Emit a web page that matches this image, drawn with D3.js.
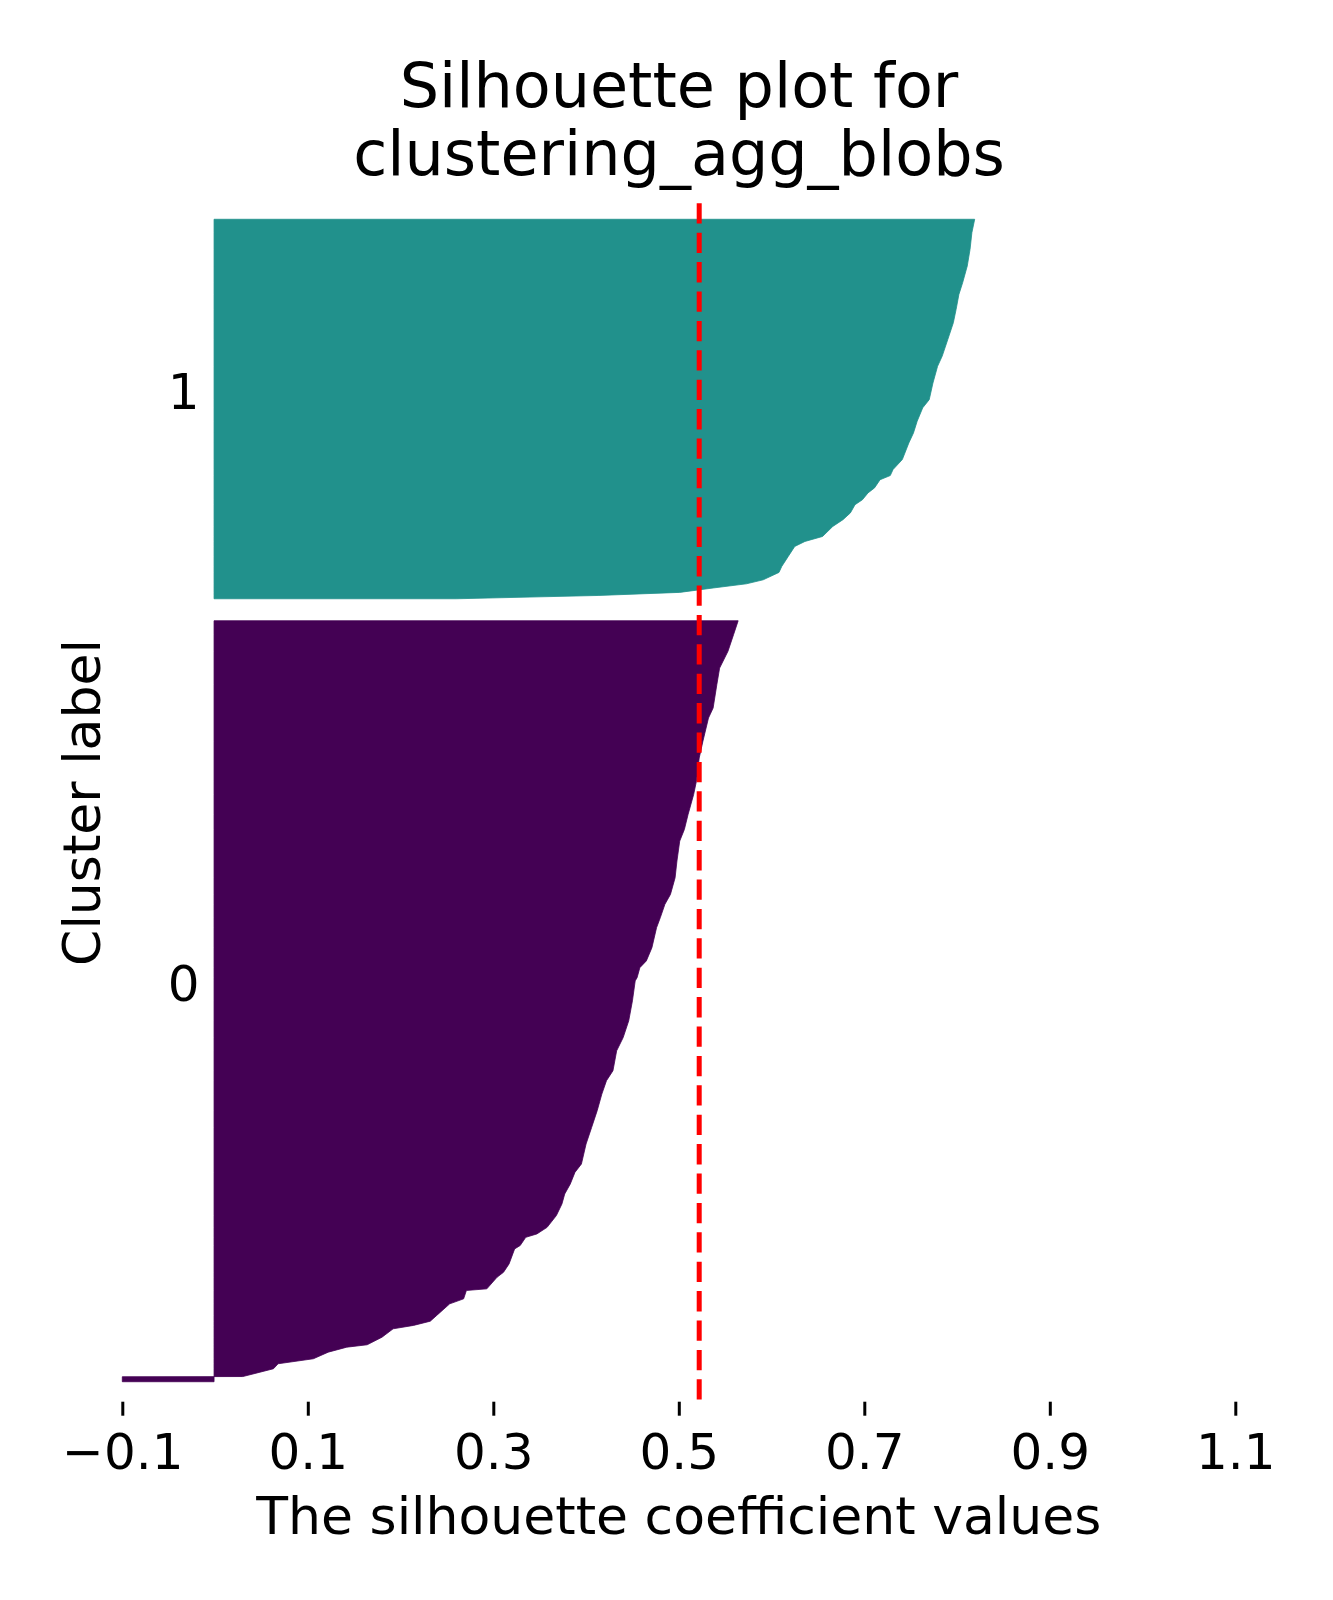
<!DOCTYPE html>
<html>
<head>
<meta charset="utf-8">
<script src="https://cdn.jsdelivr.net/npm/d3@7"></script>
<style>
  html, body { margin: 0; padding: 0; background: #fff; }
  svg { display: block; font-family: "DejaVu Sans", sans-serif; }
</style>
</head>
<body>
<svg id="chart"></svg>
<script>
'use strict';
// cluster labels, sizes and colours (viridis ends)
var clusterLabels = ['0', '1'];
var clusterSizes = [381, 190];
var clusterColors = ['#440154', '#21918c'];
var clusterGap = 11;
var yFirst = 10;
var yMax = 600;
var avgScore = 0.522;
var xTicks = [-0.1, 0.1, 0.3, 0.5, 0.7, 0.9, 1.1];
var xDomain = [-0.1, 1.1];

// sorted silhouette profile: [rank in cluster, value]
var profile0 = [
    [0, -0.1], [2.5, -0.1], [2.6, 0.03], [6.5, 0.063], [9, 0.068], [11.5, 0.106],
    [14.8, 0.122], [17.3, 0.142], [18.5, 0.164], [22.3, 0.18], [26.5, 0.192],
    [28.2, 0.214], [30.3, 0.232], [33.2, 0.239], [39, 0.253], [41.5, 0.268],
    [45.7, 0.271], [46.5, 0.293], [52.3, 0.304], [54.8, 0.311], [59, 0.317],
    [66.5, 0.323], [68.2, 0.329], [72.3, 0.335], [74, 0.347], [77.3, 0.358],
    [83.2, 0.368], [89, 0.374], [94, 0.377], [99, 0.383], [104.8, 0.388],
    [109, 0.395], [119, 0.4], [127.3, 0.406], [135.7, 0.412], [144, 0.417],
    [150.7, 0.422], [155.7, 0.429], [165.7, 0.433], [172.3, 0.44], [180.7, 0.446],
    [190.7, 0.45], [200.7, 0.453], [202.3, 0.455], [207.3, 0.458], [210.7, 0.465],
    [217.3, 0.471], [227.3, 0.476], [232.3, 0.48], [239, 0.485], [244, 0.491],
    [252.3, 0.496], [260.7, 0.498], [270.7, 0.501], [276.5, 0.506], [284, 0.51],
    [294, 0.516], [300.7, 0.519], [312.3, 0.522], [320.7, 0.526], [332.3, 0.532],
    [337.3, 0.537], [349, 0.541], [357.3, 0.544], [365.7, 0.553], [374, 0.559],
    [381, 0.564]
];
var profile1 = [
    [0, 0.26], [1.65, 0.413], [3.2, 0.501], [5.4, 0.537], [7.5, 0.573],
    [9.5, 0.591], [13.2, 0.608], [16.2, 0.611], [21.2, 0.618], [26.2, 0.625],
    [28.7, 0.636], [31.2, 0.655], [36.2, 0.666], [39.6, 0.677], [43, 0.685],
    [47.1, 0.69], [49.6, 0.698], [53, 0.704], [55.5, 0.711], [59.6, 0.717],
    [61.7, 0.728], [64.7, 0.731], [69.7, 0.741], [78, 0.748], [83, 0.753],
    [88.9, 0.757], [95.6, 0.763], [99.7, 0.77], [108, 0.774], [116.4, 0.779],
    [121.5, 0.784], [129.8, 0.79], [138.2, 0.796], [144.9, 0.799], [152.4, 0.802],
    [158.2, 0.806], [166.6, 0.811], [174.9, 0.814], [183.3, 0.816], [190, 0.819]
];
var profiles = [profile0, profile1];

var W = 1333, H = 1600;
var margin = {left: 122.3, right: W - 1235.3, top: 203.3, bottom: H - 1401.7};
var svg = d3.select('#chart').attr('width', W).attr('height', H);

var xScale = d3.scaleLinear()
    .domain(xDomain)
    .range([margin.left, W - margin.right])
;
var yScale = d3.scaleLinear()
    .domain([0, yMax])
    .range([H - margin.bottom, margin.top])
;

// cluster bands
var yLower = yFirst;
clusterSizes.forEach(function(size, i) {
    var start = yLower;
    var area = d3.area()
        .y(function(d) { return yScale(start + d[0]); })
        .x0(xScale(0) - 1)
        .x1(function(d) { return xScale(d[1]); })
    ;
    svg.append('path')
        .attr('d', area(profiles[i]))
        .attr('fill', clusterColors[i])
        .attr('stroke', clusterColors[i])
        .attr('stroke-width', 0.8)
    ;
    svg.append('text')
        .attr('x', xScale(-0.05) - 1)
        .attr('y', yScale(start + 0.5 * size))
        .attr('font-size', 50)
        .text(clusterLabels[i])
    ;
    yLower = start + size + clusterGap;
});

// average score line
svg.append('line')
    .attr('x1', xScale(avgScore))
    .attr('x2', xScale(avgScore))
    .attr('y1', yScale(yMax))
    .attr('y2', yScale(0))
    .attr('stroke', '#ff0000')
    .attr('stroke-width', 5)
    .attr('stroke-dasharray', '20.3,9.1')
;

// x axis
var gx = svg.append('g')
    .attr('transform', 'translate(0,' + yScale(0) + ')')
    .call(d3.axisBottom(xScale)
        .tickValues(xTicks)
        .tickFormat(d3.format('.1f'))
        .tickSizeInner(14)
        .tickSizeOuter(0))
;
gx.select('.domain').remove();
gx.selectAll('.tick line').attr('stroke', '#000').attr('stroke-width', 3);
gx.selectAll('.tick text')
    .attr('y', 67)
    .attr('dy', null)
    .attr('fill', '#000')
    .style('font-size', '50px')
    .style('font-family', '"DejaVu Sans", sans-serif')
;

// axis labels, title
svg.append('text')
    .attr('x', (xScale.range()[0] + xScale.range()[1]) / 2)
    .attr('y', 1534)
    .attr('text-anchor', 'middle')
    .attr('font-size', 52)
    .text('The silhouette coefficient values')
;
svg.append('text')
    .attr('transform', 'translate(100,' + (yScale(0) + yScale(yMax)) / 2 + ') rotate(-90)')
    .attr('text-anchor', 'middle')
    .attr('font-size', 52)
    .text('Cluster label')
;
var title = svg.append('text')
    .attr('text-anchor', 'middle')
    .attr('font-size', 62)
;
title.append('tspan').attr('x', 679).attr('y', 107).text('Silhouette plot for');
title.append('tspan').attr('x', 679).attr('y', 175).text('clustering_agg_blobs');
</script>
</body>
</html>
